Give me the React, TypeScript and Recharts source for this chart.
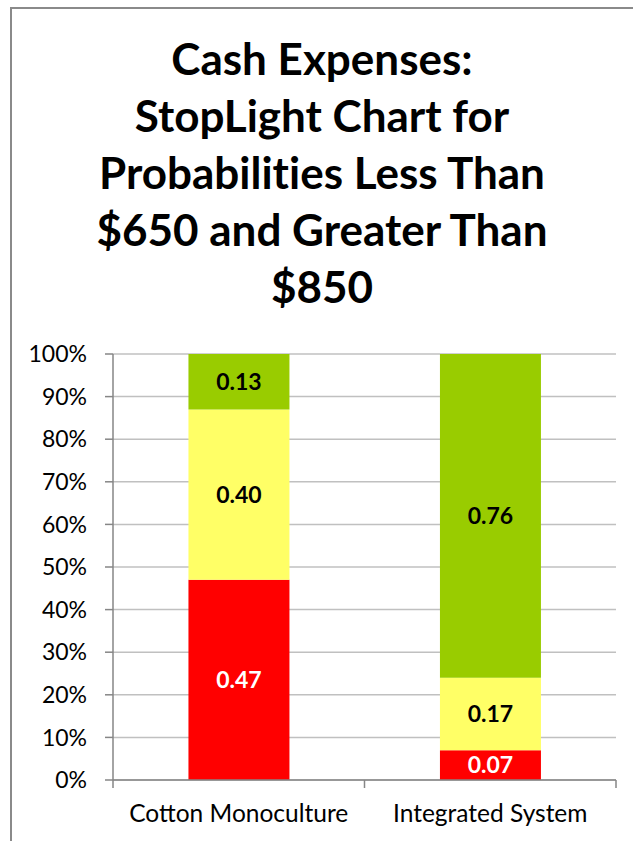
import React from "react";
import { BarChart, Bar, XAxis, YAxis, CartesianGrid, LabelList } from "recharts";

const categories = ["Cotton Monoculture", "Integrated System"];
const below650 = [0.47, 0.07];
const between = [0.40, 0.17];
const above850 = [0.13, 0.76];
const yTicks = [0, 0.1, 0.2, 0.3, 0.4, 0.5, 0.6, 0.7, 0.8, 0.9, 1.0];
const titleLines = ["Cash Expenses:", "StopLight Chart for", "Probabilities Less Than", "$650 and Greater Than", "$850"];

const data = categories.map((c, i) => ({
  name: c,
  low: below650[i],
  mid: between[i],
  high: above850[i],
}));

const W = 633;
const H = 841;
const PLOT_LEFT = 113;
const PLOT_RIGHT = 616;
const PLOT_TOP = 354;
const PLOT_BOTTOM = 780;
const BAND = (PLOT_RIGHT - PLOT_LEFT) / categories.length;
const X_TICK_MARGIN = 25;
const FONT = "Lato, 'Open Sans', sans-serif";
const AXIS_COLOR = "#868686";

const XTick = (props: any) => {
  const { x, y, payload, index } = props;
  const axisY = y - X_TICK_MARGIN;
  const last = index === categories.length - 1;
  return (
    <g>
      <line x1={x - BAND / 2} x2={x - BAND / 2} y1={axisY} y2={axisY + 8} stroke={AXIS_COLOR} strokeWidth={1.5} />
      {last && (
        <line x1={x + BAND / 2} x2={x + BAND / 2} y1={axisY} y2={axisY + 8} stroke={AXIS_COLOR} strokeWidth={1.5} />
      )}
      <text x={x} y={y} dy="0.71em" textAnchor="middle" fill="#000" fontSize={24.5} fontFamily={FONT}>
        {payload.value}
      </text>
    </g>
  );
};

const fmt = (v: any) => Number(v).toFixed(2);

export default function App() {
  return (
    <div style={{ position: "absolute", left: 0, top: 0, width: W, height: H, overflow: "hidden", background: "#fff", fontFamily: FONT }}>
      <div style={{ position: "absolute", left: 10, top: 7, width: 700, height: 900, borderLeft: "2px solid #8a8a8a", borderTop: "2px solid #8a8a8a" }} />
      <div style={{ position: "absolute", left: 0, top: 30, width: 644, textAlign: "center", fontWeight: 700, fontSize: 44, lineHeight: "57px", color: "#000", fontVariantLigatures: "none" }}>
        {titleLines.map((t, i) => (
          <div key={i}>{t}</div>
        ))}
      </div>
      <div style={{ position: "absolute", left: 0, top: 0 }}>
        <BarChart
          width={W}
          height={H}
          data={data}
          margin={{ top: PLOT_TOP, right: W - PLOT_RIGHT, left: 0, bottom: 21 }}
          barCategoryGap="30%"
        >
          <CartesianGrid vertical={false} stroke="#c0c0c0" strokeWidth={1.5} />
          <YAxis
            width={PLOT_LEFT}
            domain={[0, 1]}
            ticks={yTicks}
            tickFormatter={(v: number) => `${Math.round(v * 100)}%`}
            tick={{ fill: "#000", fontSize: 23, fontFamily: FONT }}
            tickSize={8}
            tickMargin={18}
            axisLine={{ stroke: AXIS_COLOR, strokeWidth: 1.5 }}
            tickLine={{ stroke: AXIS_COLOR, strokeWidth: 1.5 }}
          />
          <XAxis
            dataKey="name"
            height={H - 21 - PLOT_BOTTOM}
            tick={<XTick />}
            tickLine={false}
            tickSize={0}
            tickMargin={X_TICK_MARGIN}
            interval={0}
            axisLine={{ stroke: AXIS_COLOR, strokeWidth: 1.5 }}
          />
          <Bar dataKey="low" stackId="a" fill="#ff0000" isAnimationActive={false}>
            <LabelList dataKey="low" position="center" formatter={fmt} fill="#ffffff" fontSize={23} fontWeight={700} fontFamily={FONT} />
          </Bar>
          <Bar dataKey="mid" stackId="a" fill="#ffff66" isAnimationActive={false}>
            <LabelList dataKey="mid" position="center" formatter={fmt} fill="#000000" fontSize={23} fontWeight={700} fontFamily={FONT} />
          </Bar>
          <Bar dataKey="high" stackId="a" fill="#99cc00" isAnimationActive={false}>
            <LabelList dataKey="high" position="center" formatter={fmt} fill="#000000" fontSize={23} fontWeight={700} fontFamily={FONT} />
          </Bar>
        </BarChart>
      </div>
    </div>
  );
}
